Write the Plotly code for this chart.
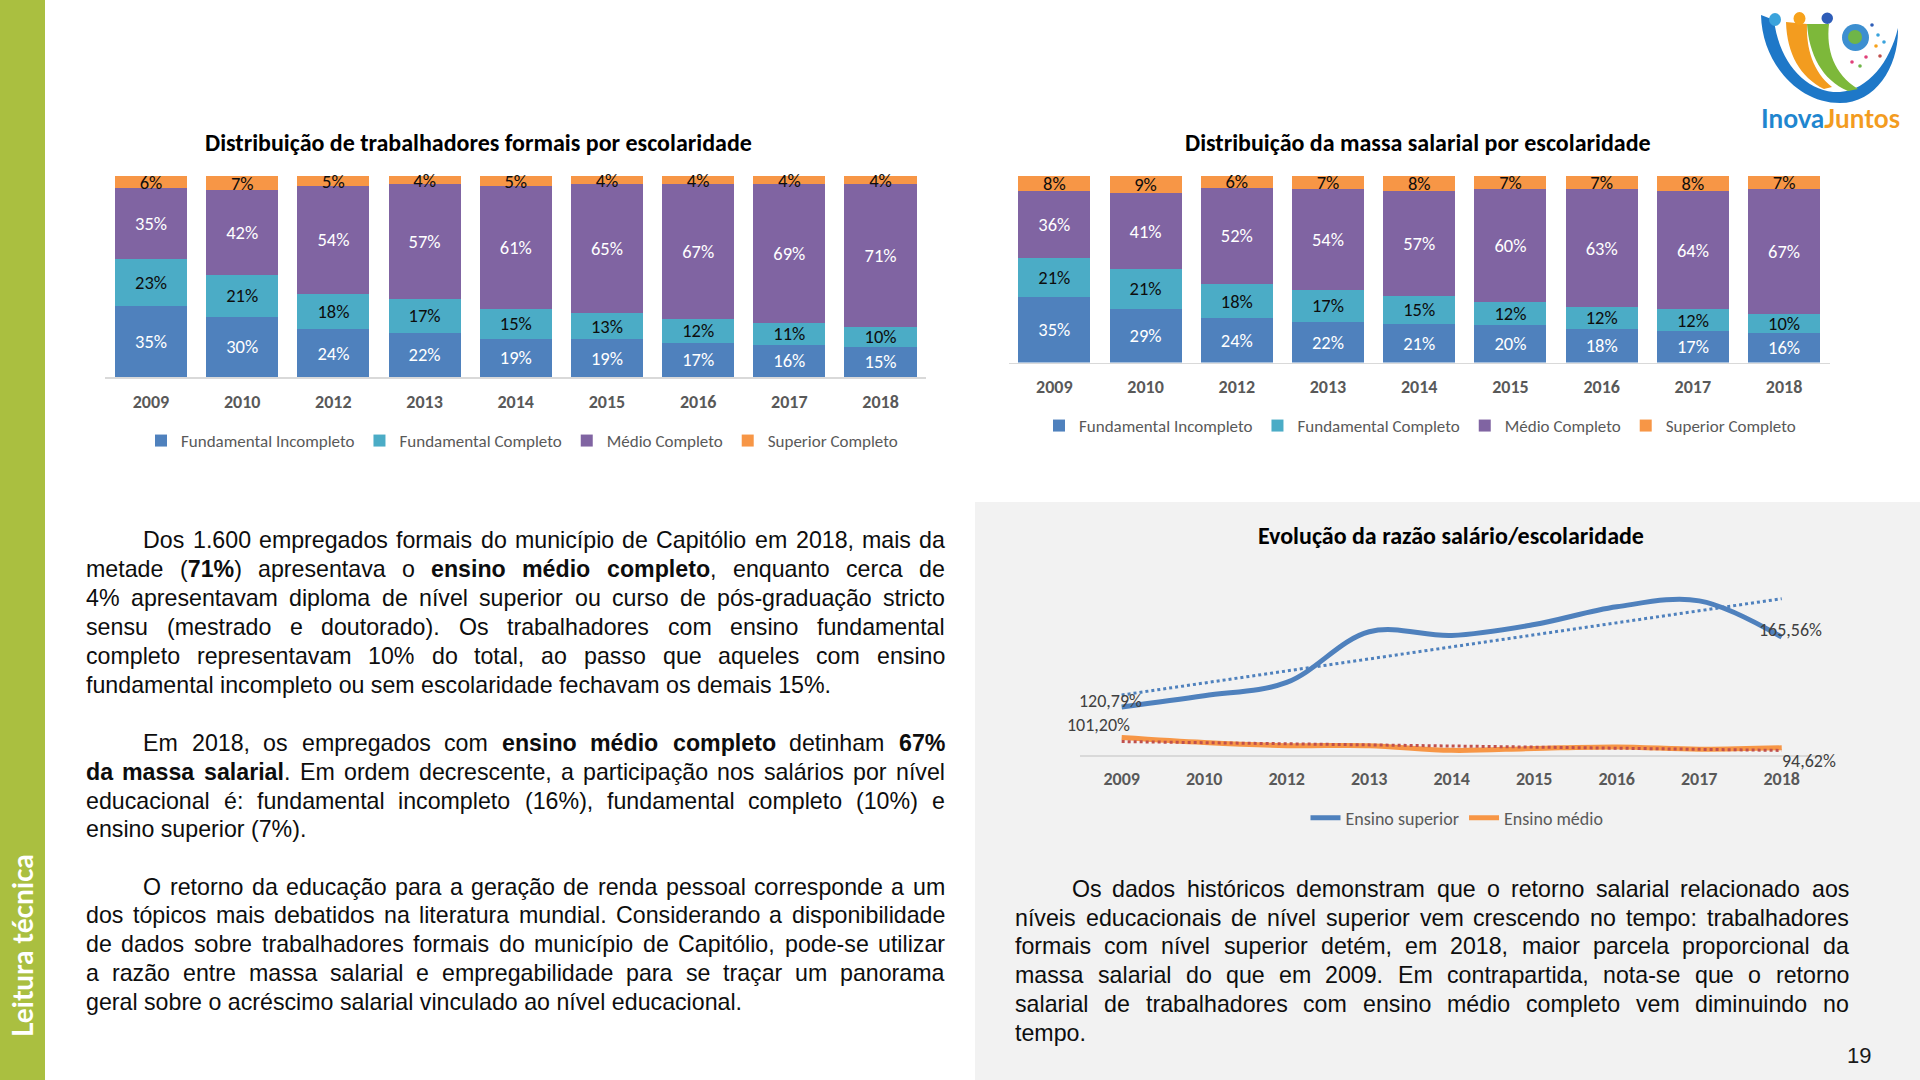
import re
import numpy as np
import plotly.graph_objects as go

W, H = 1920, 1080

# ---------------- data ----------------
years = ["2009", "2010", "2012", "2013", "2014", "2015", "2016", "2017", "2018"]
series_names = ["Fundamental Incompleto", "Fundamental Completo", "Médio Completo", "Superior Completo"]

trab_fund_incompleto = [35, 30, 24, 22, 19, 19, 17, 16, 15]
trab_fund_completo = [23, 21, 18, 17, 15, 13, 12, 11, 10]
trab_medio_completo = [35, 42, 54, 57, 61, 65, 67, 69, 71]
trab_superior_completo = [6, 7, 5, 4, 5, 4, 4, 4, 4]

massa_fund_incompleto = [35, 29, 24, 22, 21, 20, 18, 17, 16]
massa_fund_completo = [21, 21, 18, 17, 15, 12, 12, 12, 10]
massa_medio_completo = [36, 41, 52, 54, 57, 60, 63, 64, 67]
massa_superior_completo = [8, 9, 6, 7, 8, 7, 7, 8, 7]

line_names = ["Ensino superior", "Ensino médio"]
razao_superior = [120.79, 128.0, 136.5, 169.0, 166.6, 173.6, 185.0, 188.8, 165.56]
razao_medio = [101.20, 98.0, 96.0, 96.0, 93.0, 94.2, 95.2, 93.7, 94.62]

# ---------------- styles ----------------
colors = ["#4F81BD", "#4BACC6", "#8064A2", "#F79646"]
label_colors = ["white", "#0D0D0D", "white", "#0D0D0D"]
F_CHART = "Carlito, Calibri, Lato, sans-serif"
F_TEXT = "Liberation Sans, Arial, sans-serif"
TEXT_SIZE = 23.2


def px(x):
    return x / W


def py(y):
    return 1 - y / H


def P(s):
    toks = re.findall(r'[A-Za-z]|-?\d+(?:\.\d+)?', s)
    out, i = [], 0
    for t in toks:
        if t.isalpha():
            out.append(t)
            i = 0
        else:
            v = float(t)
            out.append(f"{v / W:.5f}" if i % 2 == 0 else f"{1 - v / H:.5f}")
            i += 1
    return " ".join(out)


fig = go.Figure()


def add_bars(data, xa, ya, legend):
    for name, vals, col, tcol in zip(series_names, data, colors, label_colors):
        fig.add_trace(go.Bar(
            x=years, y=vals, name=name,
            marker=dict(color=col, line=dict(width=0)),
            text=[f"{v}%" for v in vals], textposition="inside",
            insidetextanchor="middle", textangle=0, constraintext="none",
            cliponaxis=False,
            textfont=dict(family=F_CHART, size=18.5, color=tcol),
            xaxis=xa, yaxis=ya, legend=legend, hoverinfo="skip"))


add_bars([trab_fund_incompleto, trab_fund_completo, trab_medio_completo, trab_superior_completo],
         "x", "y", "legend")
add_bars([massa_fund_incompleto, massa_fund_completo, massa_medio_completo, massa_superior_completo],
         "x2", "y2", "legend2")

idx = np.arange(len(years))
line_cols = ["#4F81BD", "#F79646"]
trend_cols = ["#4F81BD", "#C0504D"]
for name, vals, col in zip(line_names, [razao_superior, razao_medio], line_cols):
    fig.add_trace(go.Scatter(
        x=years, y=vals, name=name, mode="lines",
        line=dict(color=col, width=5, shape="spline", smoothing=1),
        xaxis="x3", yaxis="y3", legend="legend3", hoverinfo="skip"))
for vals, tcol in zip([razao_superior, razao_medio], trend_cols):
    k, b = np.polyfit(idx, vals, 1)
    fig.add_trace(go.Scatter(
        x=years, y=k * idx + b, mode="lines", showlegend=False,
        line=dict(color=tcol, width=3, dash="3px,3px"),
        xaxis="x3", yaxis="y3", hoverinfo="skip"))

# ---------------- axes ----------------
tickfont = dict(family=F_CHART, size=18, color="#595959", weight="bold")
xcommon = dict(type="category", range=[-0.5, 8.5], showgrid=False, zeroline=False,
               showline=True, linecolor="#D9D9D9", linewidth=1.5, ticks="",
               tickfont=tickfont, fixedrange=True)
ycommon = dict(showgrid=False, zeroline=False, showline=False, showticklabels=False,
               ticks="", fixedrange=True)
TOPR = 100.5  # headroom so that rounded stacks reaching 100% keep their labels

layout = dict(
    width=W, height=H, autosize=False,
    margin=dict(l=0, r=0, t=0, b=0),
    paper_bgcolor="white", plot_bgcolor="rgba(0,0,0,0)",
    barmode="stack", barnorm="percent", bargap=0.21,
    xaxis=dict(xcommon, domain=[px(105.4), px(926.1)], anchor="y", ticklabelstandoff=8),
    yaxis=dict(ycommon, domain=[py(377), py(176.3 - 1.0)], range=[0, TOPR], anchor="x"),
    xaxis2=dict(xcommon, domain=[px(1008.7), px(1829.7)], anchor="y2", ticklabelstandoff=7),
    yaxis2=dict(ycommon, domain=[py(362.5), py(176.3 - 0.9)], range=[0, TOPR], anchor="x2"),
    xaxis3=dict(xcommon, domain=[px(1080.4), px(1823)], anchor="y3", ticklabelstandoff=7),
    yaxis3=dict(ycommon, domain=[py(755), py(755 - 110 * 1.56)], range=[90, 200], anchor="x3"),
    showlegend=True,
    hovermode=False,
)
legend_common = dict(orientation="h", xanchor="center", yanchor="middle",
                     font=dict(family=F_CHART, size=17, color="#595959"),
                     bgcolor="rgba(0,0,0,0)", traceorder="normal",
                     itemclick=False, itemdoubleclick=False)
layout["legend"] = dict(legend_common, x=px(522), y=py(441))
layout["legend2"] = dict(legend_common, x=px(1420), y=py(426))
layout["legend3"] = dict(legend_common, x=px(1457), y=py(818),
                         font=dict(family=F_CHART, size=18, color="#595959"))
fig.update_layout(**layout)

# ---------------- shapes ----------------
shapes = [
    dict(type="rect", xref="paper", yref="paper", x0=0, x1=px(45), y0=0, y1=1,
         fillcolor="#AABF40", line=dict(width=0), layer="below"),
    dict(type="rect", xref="paper", yref="paper", x0=px(975), x1=1, y0=0, y1=py(502),
         fillcolor="#F2F2F2", line=dict(width=0), layer="below"),
    # logo swooshes
    dict(type="path", xref="paper", yref="paper",
         path=P("M 1761 15 C 1762 62 1797 103 1840 103 C 1876 103 1899 66 1898 28 "
                "C 1890 62 1868 90 1840 92 C 1806 93 1779 62 1774 20 Z"),
         fillcolor="#1E78C8", line=dict(width=0)),
    dict(type="path", xref="paper", yref="paper",
         path=P("M 1786 22 C 1787 54 1800 77 1824 89 L 1832 87 "
                "C 1813 72 1806 48 1807 24 Z"),
         fillcolor="#F39C1F", line=dict(width=0)),
    dict(type="path", xref="paper", yref="paper",
         path=P("M 1807 24 C 1809 54 1822 80 1848 91 L 1858 89 "
                "C 1834 74 1826 50 1829 24 Z"),
         fillcolor="#7DB83A", line=dict(width=0)),
    dict(type="circle", xref="paper", yref="paper",
         x0=px(1769), x1=px(1781), y0=py(26), y1=py(13),
         fillcolor="#3BA3DC", line=dict(width=0)),
    dict(type="circle", xref="paper", yref="paper",
         x0=px(1793.5), x1=px(1805.5), y0=py(25), y1=py(12),
         fillcolor="#F7A21B", line=dict(width=0)),
    dict(type="circle", xref="paper", yref="paper",
         x0=px(1821.5), x1=px(1833), y0=py(24), y1=py(12.5),
         fillcolor="#2E5DB8", line=dict(width=0)),
    dict(type="circle", xref="paper", yref="paper",
         x0=px(1842), x1=px(1869), y0=py(51), y1=py(24),
         fillcolor="#3D8FD0", line=dict(width=0)),
    dict(type="circle", xref="paper", yref="paper",
         x0=px(1848), x1=px(1862), y0=py(44), y1=py(30),
         fillcolor="#6FB548", line=dict(width=0)),
]
dots = [(1872, 25, "#2E5DB8"), (1878, 35, "#3BA3DC"), (1876, 46, "#F7A21B"),
        (1866, 57, "#E0407A"), (1852, 62, "#E0407A"), (1860, 66, "#6FB548"),
        (1880, 56, "#C0504D"), (1884, 42, "#3BA3DC")]
for dx, dy, dc in dots:
    shapes.append(dict(type="circle", xref="paper", yref="paper",
                       x0=px(dx - 1.8), x1=px(dx + 1.8), y0=py(dy + 1.8), y1=py(dy - 1.8),
                       fillcolor=dc, line=dict(width=0)))
fig.update_layout(shapes=shapes)

# ---------------- annotations ----------------
ann = []


def txt(x, y, text, size, color="#000000", family=F_CHART, xanchor="center",
        yanchor="middle", angle=0, pad=1):
    ann.append(dict(x=px(x), y=py(y), xref="paper", yref="paper", text=text,
                    showarrow=False, xanchor=xanchor, yanchor=yanchor, textangle=angle,
                    borderpad=pad, borderwidth=0 if pad == 0 else 1,
                    font=dict(family=family, size=size, color=color)))


txt(478, 142, "<b>Distribuição de trabalhadores formais por escolaridade</b>", 24)
txt(1418, 142, "<b>Distribuição da massa salarial por escolaridade</b>", 24)
txt(1451, 536, "<b>Evolução da razão salário/escolaridade</b>", 24)


# line chart data labels (category axis: x is the category index)
def lab(i, vals, xs, ys):
    ann.append(dict(x=i, y=vals[i], xref="x3", yref="y3",
                    text=f"{vals[i]:.2f}%".replace(".", ","), showarrow=False,
                    xshift=xs, yshift=ys, font=dict(family=F_CHART, size=18, color="#404040")))


lab(0, razao_superior, -11, 6)
lab(len(years) - 1, razao_superior, 9, 7)
lab(0, razao_medio, -23, 13)
lab(len(years) - 1, razao_medio, 27, -13)

# sidebar, page number, logo text
txt(22, 946, "<b>Leitura técnica</b>", 28, color="white", family="Lato, sans-serif", angle=-90)
txt(1859, 1055, "19", 22, color="#1a1a1a", family="Liberation Sans, sans-serif")
txt(1830, 118, "<b><span style='color:#1F86CF'>Inova</span><span style='color:#F39C1F'>Juntos</span></b>",
    26, family="Lato, sans-serif")

# ---------------- justified paragraphs ----------------
AR = {' ': 278, '%': 889, '(': 333, ')': 333, ',': 278, '-': 333, '.': 278, ':': 278,
      'A': 667, 'C': 722, 'D': 722, 'E': 667, 'O': 778,
      'a': 556, 'b': 556, 'c': 500, 'd': 556, 'e': 556, 'f': 278, 'g': 556, 'h': 556,
      'i': 222, 'j': 222, 'k': 500, 'l': 222, 'm': 833, 'n': 556, 'o': 556, 'p': 556,
      'q': 556, 'r': 333, 's': 500, 't': 278, 'u': 556, 'v': 500, 'w': 722, 'x': 500,
      'y': 500, 'z': 500, 'á': 556, 'à': 556, 'â': 556, 'ã': 556, 'é': 556, 'ê': 556,
      'í': 278, 'ó': 556, 'ô': 556, 'õ': 556, 'ú': 556, 'ç': 500}
AB = {' ': 278, '%': 889, '(': 333, ')': 333, ',': 278, '-': 333, '.': 278, ':': 333,
      'a': 556, 'b': 611, 'c': 556, 'd': 611, 'e': 556, 'f': 333, 'g': 611, 'h': 611,
      'i': 278, 'j': 278, 'k': 556, 'l': 278, 'm': 889, 'n': 611, 'o': 611, 'p': 611,
      'q': 611, 'r': 389, 's': 556, 't': 333, 'u': 611, 'v': 556, 'w': 778, 'x': 556,
      'y': 556, 'z': 500, 'á': 556, 'é': 556, 'í': 278, 'ó': 611, 'ç': 556}


def parse(line):
    chars, bold, i = [], False, 0
    while i < len(line):
        if line.startswith("<b>", i):
            bold, i = True, i + 3
            continue
        if line.startswith("</b>", i):
            bold, i = False, i + 4
            continue
        chars.append((line[i], bold))
        i += 1
    words, cur = [], []
    for c, b in chars:
        if c == " ":
            if cur:
                words.append(cur)
                cur = []
        else:
            cur.append((c, b))
    if cur:
        words.append(cur)
    return words


def markup(word):
    out, bold = "", False
    for c, b in word:
        if b and not bold:
            out += "<b>"
            bold = True
        if not b and bold:
            out += "</b>"
            bold = False
        out += c
    if bold:
        out += "</b>"
    return out


def wwidth(word):
    return sum((AB if b else AR).get(c, 556) for c, b in word) * TEXT_SIZE / 1000


def put_line(y, x0, x1, text, justify):
    if not justify:
        txt(x0, y, text, TEXT_SIZE, color="#0D0D0D", family=F_TEXT, xanchor="left", pad=0)
        return
    words = parse(text)
    widths = [wwidth(w) for w in words]
    gap = (x1 - x0 - sum(widths)) / (len(words) - 1)
    x = x0
    for j, (w, ww) in enumerate(zip(words, widths)):
        if j == len(words) - 1:
            txt(x1, y, markup(w), TEXT_SIZE, color="#0D0D0D", family=F_TEXT,
                xanchor="right", pad=0)
        else:
            txt(x, y, markup(w), TEXT_SIZE, color="#0D0D0D", family=F_TEXT,
                xanchor="left", pad=0)
        x += ww + gap


L0, LI, LR = 86, 143, 945
R0, RI, RR = 1015, 1071.5, 1849
para_left = [
    (540.0, LI, "Dos 1.600 empregados formais do município de Capitólio em 2018, mais da", True),
    (568.9, L0, "metade (<b>71%</b>) apresentava o <b>ensino médio completo</b>, enquanto cerca de", True),
    (597.8, L0, "4% apresentavam diploma de nível superior ou curso de pós-graduação stricto", True),
    (626.7, L0, "sensu (mestrado e doutorado). Os trabalhadores com ensino fundamental", True),
    (655.6, L0, "completo representavam 10% do total, ao passo que aqueles com ensino", True),
    (684.5, L0, "fundamental incompleto ou sem escolaridade fechavam os demais 15%.", False),
    (743.3, LI, "Em 2018, os empregados com <b>ensino médio completo</b> detinham <b>67%</b>", True),
    (771.9, L0, "<b>da massa salarial</b>. Em ordem decrescente, a participação nos salários por nível", True),
    (800.5, L0, "educacional é: fundamental incompleto (16%), fundamental completo (10%) e", True),
    (829.1, L0, "ensino superior (7%).", False),
    (886.5, LI, "O retorno da educação para a geração de renda pessoal corresponde a um", True),
    (915.3, L0, "dos tópicos mais debatidos na literatura mundial. Considerando a disponibilidade", True),
    (944.1, L0, "de dados sobre trabalhadores formais do município de Capitólio, pode-se utilizar", True),
    (972.9, L0, "a razão entre massa salarial e empregabilidade para se traçar um panorama", True),
    (1001.7, L0, "geral sobre o acréscimo salarial vinculado ao nível educacional.", False),
]
para_right = [
    (889.0, RI, "Os dados históricos demonstram que o retorno salarial relacionado aos", True),
    (917.7, R0, "níveis educacionais de nível superior vem crescendo no tempo: trabalhadores", True),
    (946.4, R0, "formais com nível superior detém, em 2018, maior parcela proporcional da", True),
    (975.1, R0, "massa salarial do que em 2009. Em contrapartida, nota-se que o retorno", True),
    (1003.8, R0, "salarial de trabalhadores com ensino médio completo vem diminuindo no", True),
    (1032.5, R0, "tempo.", False),
]
for y, x, t, j in para_left:
    put_line(y, x, LR, t, j)
for y, x, t, j in para_right:
    put_line(y, x, RR, t, j)

fig.update_layout(annotations=ann)

fig.write_html("out.html", config={"displayModeBar": False, "staticPlot": True},
               post_script="document.body.style.margin='0';document.body.style.overflow='hidden';")
